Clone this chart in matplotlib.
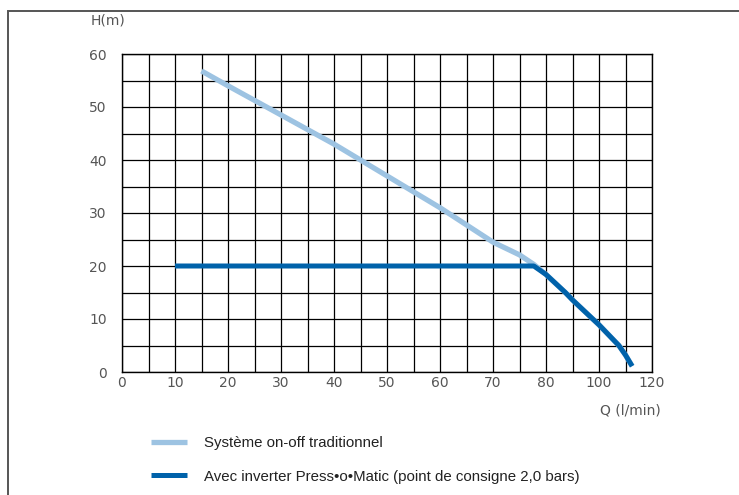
import numpy as np
import matplotlib
matplotlib.use("Agg")
import matplotlib.pyplot as plt
from matplotlib.patches import Rectangle

# x axis is labelled unevenly (80 -> 100 -> 120 on equal steps)
q_ticks = [0, 10, 20, 30, 40, 50, 60, 70, 80, 100, 120]
q_minor = [5, 15, 25, 35, 45, 55, 65, 75, 90, 110]
h_ticks = [0, 10, 20, 30, 40, 50, 60]

# traditional on-off system
q_onoff = [15, 20, 30, 40, 50, 60, 70, 75, 77.7, 80, 87.3, 90, 96.8, 100, 107.5, 110, 112.5]
h_onoff = [56.8, 54, 48.5, 43, 37, 31, 24.5, 22.1, 20.3, 18.4, 15, 13.6, 10.4, 8.9, 5, 3.2, 1.1]

# Press-o-Matic inverter, set point 2.0 bars
q_inv = [10, 77.7, 80, 87.3, 90, 96.8, 100, 107.5, 110, 112.5]
h_inv = [20, 20, 18.4, 15, 13.6, 10.4, 8.9, 5, 3.2, 1.1]

label_onoff = "Système on-off traditionnel"
label_inv = "Avec inverter Press•o•Matic (point de consigne 2,0 bars)"

pos = np.arange(len(q_ticks))


def fwd(q):
    return np.interp(q, q_ticks, pos)


def inv(p):
    return np.interp(p, pos, q_ticks)


fig = plt.figure(figsize=(7.39, 4.95), dpi=100)
ax = fig.add_axes([122/739, 1-372/495, 530/739, 318/495])

ax.set_xscale('function', functions=(fwd, inv))
ax.set_xlim(0, 120)
ax.set_ylim(0, 60)
ax.set_xticks(q_ticks)
ax.set_xticks(q_minor, minor=True)
ax.set_yticks(h_ticks)
ax.set_yticks(np.arange(5, 60, 10), minor=True)
ax.set_xticklabels([str(v) for v in q_ticks])
ax.grid(True, which='both', color='black', lw=0.9)
ax.tick_params(which='both', length=0, labelsize=10, labelcolor='#555')
ax.tick_params(axis='x', pad=3)
ax.tick_params(axis='y', pad=11)
for s in ax.spines.values():
    s.set_color('black')
    s.set_linewidth(1.0)

ax.plot(q_onoff, h_onoff, color='#9dc3e2', lw=3.8, solid_capstyle='butt',
        solid_joinstyle='round', label=label_onoff, zorder=3)
ax.plot(q_inv, h_inv, color='#0062aa', lw=3.6, solid_capstyle='butt',
        solid_joinstyle='round', label=label_inv, zorder=4)

fig.text(91/739, 1-20/495, "H(m)", fontsize=10, color='#555', va='center')
fig.text(661/739, 1-410/495, "Q (l/min)", fontsize=10, color='#555',
         va='center', ha='right')

leg = fig.legend(loc='upper left', bbox_to_anchor=(151/739, 1-436/495),
                 frameon=False, handlelength=2.4, handletextpad=1.1,
                 labelspacing=1.3, borderaxespad=0, borderpad=0,
                 prop={'family': 'Liberation Sans', 'size': 10.8})
for t in leg.get_texts():
    t.set_color('#222')

fig.patches.append(Rectangle((8/739, -0.1), 1.2, 1.1 - 11/495,
                             transform=fig.transFigure, fill=False,
                             edgecolor='#555', lw=1.4))

plt.savefig("out.png", dpi=100)
